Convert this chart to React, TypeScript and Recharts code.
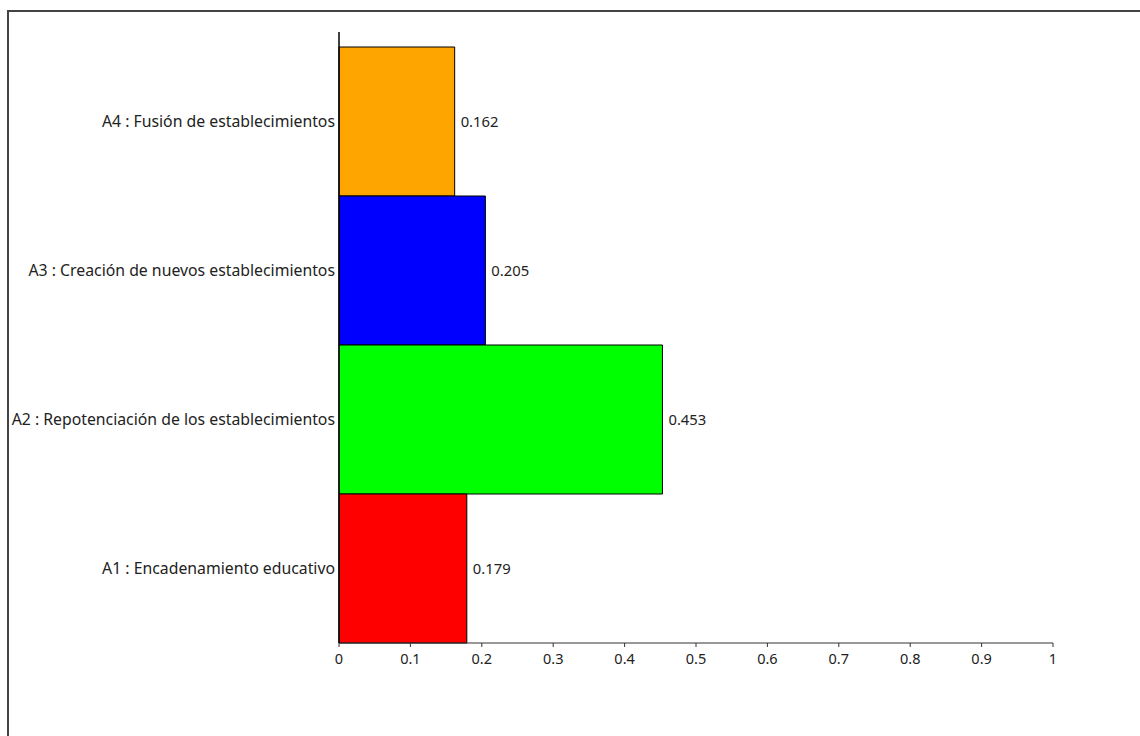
import React from 'react'
import { BarChart, Bar, XAxis, YAxis, Cell, LabelList } from 'recharts'

const categories = [
  'A4 : Fusión de establecimientos',
  'A3 : Creación de nuevos establecimientos',
  'A2 : Repotenciación de los establecimientos',
  'A1 : Encadenamiento educativo',
]
const values = [0.162, 0.205, 0.453, 0.179]
const colors = ['#FFA500', '#0000FF', '#00FF00', '#FF0000']
const xTicks = [0, 0.1, 0.2, 0.3, 0.4, 0.5, 0.6, 0.7, 0.8, 0.9, 1]

const data = categories.map((name, i) => ({ name, value: values[i] }))

const font = '"Noto Sans", "Open Sans", sans-serif'

export default function App() {
  return (
    <div style={{ position: 'absolute', left: 0, top: 0, width: 1140, height: 736, background: '#fff', overflow: 'hidden', fontFamily: font }}>
      <div style={{ position: 'absolute', left: 7, top: 10, width: 1200, height: 800, borderTop: '2px solid #444', borderLeft: '2px solid #444' }} />
      <BarChart
        width={1140}
        height={736}
        data={data}
        layout="vertical"
        barCategoryGap={0}
        margin={{ top: 32, right: 87, bottom: 63, left: 0 }}
        style={{ position: 'absolute', left: 0, top: 0 }}
      >
        <XAxis
          type="number"
          domain={[0, 1]}
          ticks={xTicks}
          height={30}
          stroke="#333"
          tickSize={4}
          tickMargin={7}
          tick={{ fill: '#222', fontSize: 14.5, fontFamily: font }}
        />
        <YAxis
          type="category"
          dataKey="name"
          width={339}
          padding={{ top: 15, bottom: 0 }}
          stroke="#000"
          strokeWidth={1.5}
          tickLine={false}
          tickSize={0}
          tickMargin={4}
          tick={{ fill: '#222', fontSize: 15.8, fontFamily: font }}
        />
        <Bar dataKey="value" stroke="#000" strokeWidth={1} isAnimationActive={false}>
          {data.map((d, i) => (
            <Cell key={d.name} fill={colors[i]} />
          ))}
          <LabelList dataKey="value" position="right" offset={6} fill="#222" fontSize={14.8} fontFamily={font} />
        </Bar>
      </BarChart>
    </div>
  )
}
